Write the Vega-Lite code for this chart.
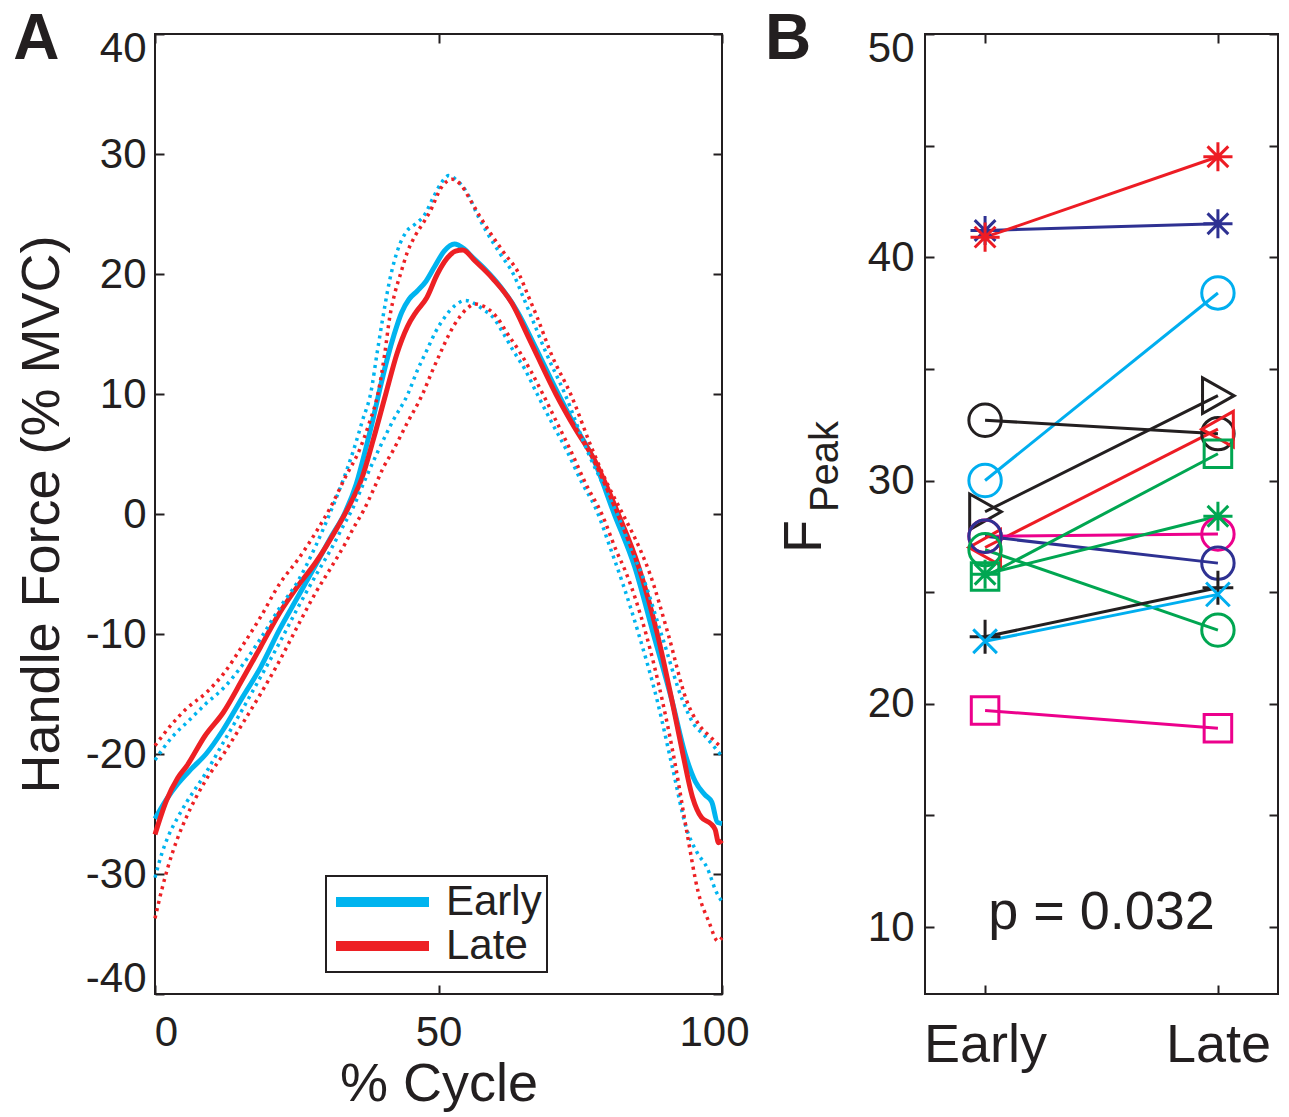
{
  "$schema": "https://vega.github.io/schema/vega-lite/v6.json",
  "background": "white",
  "padding": {"left": 12, "top": 7, "right": 8, "bottom": 0},
  "spacing": 13,
  "datasets": {
    "force": [
      {"c":0,"f":-25.4,"g":"Early","s":"mean"},{"c":2,"f":-23.8,"g":"Early","s":"mean"},{"c":4,"f":-22.5,"g":"Early","s":"mean"},{"c":6.5,"f":-21.2,"g":"Early","s":"mean"},{"c":9,"f":-20,"g":"Early","s":"mean"},{"c":12,"f":-18,"g":"Early","s":"mean"},{"c":15.4,"f":-15.3,"g":"Early","s":"mean"},{"c":18.6,"f":-12.8,"g":"Early","s":"mean"},{"c":22,"f":-9.6,"g":"Early","s":"mean"},{"c":25.2,"f":-6.9,"g":"Early","s":"mean"},{"c":28.4,"f":-4.2,"g":"Early","s":"mean"},{"c":31.2,"f":-1.8,"g":"Early","s":"mean"},{"c":33.4,"f":0,"g":"Early","s":"mean"},{"c":35.5,"f":2.5,"g":"Early","s":"mean"},{"c":37.2,"f":5.5,"g":"Early","s":"mean"},{"c":38.5,"f":8,"g":"Early","s":"mean"},{"c":39.7,"f":10.5,"g":"Early","s":"mean"},{"c":41,"f":13,"g":"Early","s":"mean"},{"c":42.2,"f":15,"g":"Early","s":"mean"},{"c":43.5,"f":16.8,"g":"Early","s":"mean"},{"c":44.8,"f":17.9,"g":"Early","s":"mean"},{"c":46.3,"f":18.6,"g":"Early","s":"mean"},{"c":47.8,"f":19.4,"g":"Early","s":"mean"},{"c":49.3,"f":20.6,"g":"Early","s":"mean"},{"c":51,"f":21.9,"g":"Early","s":"mean"},{"c":52.8,"f":22.5,"g":"Early","s":"mean"},{"c":54.5,"f":22.1,"g":"Early","s":"mean"},{"c":56,"f":21.4,"g":"Early","s":"mean"},{"c":58,"f":20.5,"g":"Early","s":"mean"},{"c":61,"f":18.9,"g":"Early","s":"mean"},{"c":64,"f":16.8,"g":"Early","s":"mean"},{"c":67,"f":14,"g":"Early","s":"mean"},{"c":70.5,"f":10.6,"g":"Early","s":"mean"},{"c":74,"f":7.4,"g":"Early","s":"mean"},{"c":77.3,"f":4.6,"g":"Early","s":"mean"},{"c":81,"f":0,"g":"Early","s":"mean"},{"c":84.6,"f":-4.4,"g":"Early","s":"mean"},{"c":87.9,"f":-10,"g":"Early","s":"mean"},{"c":91.2,"f":-15.6,"g":"Early","s":"mean"},{"c":93.5,"f":-20,"g":"Early","s":"mean"},{"c":95.3,"f":-22.3,"g":"Early","s":"mean"},{"c":97,"f":-23.4,"g":"Early","s":"mean"},{"c":98.2,"f":-24,"g":"Early","s":"mean"},{"c":99.2,"f":-25.7,"g":"Early","s":"mean"},{"c":100,"f":-25.8,"g":"Early","s":"mean"},

      {"c":0,"f":-26.7,"g":"Late","s":"mean"},{"c":2,"f":-23.9,"g":"Late","s":"mean"},{"c":4,"f":-22,"g":"Late","s":"mean"},{"c":5.6,"f":-21,"g":"Late","s":"mean"},{"c":8.8,"f":-18.5,"g":"Late","s":"mean"},{"c":12.1,"f":-16.5,"g":"Late","s":"mean"},{"c":15.4,"f":-13.8,"g":"Late","s":"mean"},{"c":18.6,"f":-11.1,"g":"Late","s":"mean"},{"c":21.9,"f":-8.3,"g":"Late","s":"mean"},{"c":25.2,"f":-6,"g":"Late","s":"mean"},{"c":28.4,"f":-4,"g":"Late","s":"mean"},{"c":31.7,"f":-1.5,"g":"Late","s":"mean"},{"c":34.6,"f":1,"g":"Late","s":"mean"},{"c":36.5,"f":3,"g":"Late","s":"mean"},{"c":38.5,"f":6.2,"g":"Late","s":"mean"},{"c":40.7,"f":10,"g":"Late","s":"mean"},{"c":42.7,"f":13.4,"g":"Late","s":"mean"},{"c":44.5,"f":15.6,"g":"Late","s":"mean"},{"c":46,"f":16.8,"g":"Late","s":"mean"},{"c":47.9,"f":18,"g":"Late","s":"mean"},{"c":49.8,"f":20,"g":"Late","s":"mean"},{"c":51.5,"f":21.3,"g":"Late","s":"mean"},{"c":53,"f":21.9,"g":"Late","s":"mean"},{"c":54.3,"f":22,"g":"Late","s":"mean"},{"c":56.4,"f":21.1,"g":"Late","s":"mean"},{"c":59.6,"f":19.6,"g":"Late","s":"mean"},{"c":62.9,"f":17.6,"g":"Late","s":"mean"},{"c":66,"f":14.6,"g":"Late","s":"mean"},{"c":70.7,"f":10,"g":"Late","s":"mean"},{"c":74,"f":7.2,"g":"Late","s":"mean"},{"c":77.5,"f":4.5,"g":"Late","s":"mean"},{"c":81.7,"f":0,"g":"Late","s":"mean"},{"c":85.3,"f":-4.4,"g":"Late","s":"mean"},{"c":88.6,"f":-10,"g":"Late","s":"mean"},{"c":91.2,"f":-15.6,"g":"Late","s":"mean"},{"c":93.1,"f":-20,"g":"Late","s":"mean"},{"c":94.8,"f":-23.6,"g":"Late","s":"mean"},{"c":96.4,"f":-25.3,"g":"Late","s":"mean"},{"c":98,"f":-25.8,"g":"Late","s":"mean"},{"c":98.8,"f":-26.3,"g":"Late","s":"mean"},{"c":99.4,"f":-27.4,"g":"Late","s":"mean"},{"c":100,"f":-27.2,"g":"Late","s":"mean"},

      {"c":0,"f":-20.5,"g":"Early","s":"upper"},{"c":3,"f":-18.6,"g":"Early","s":"upper"},{"c":6,"f":-17.2,"g":"Early","s":"upper"},{"c":9,"f":-15.8,"g":"Early","s":"upper"},{"c":12.1,"f":-14.5,"g":"Early","s":"upper"},{"c":15.4,"f":-12.6,"g":"Early","s":"upper"},{"c":18.6,"f":-10.4,"g":"Early","s":"upper"},{"c":22,"f":-7.8,"g":"Early","s":"upper"},{"c":25.2,"f":-5.6,"g":"Early","s":"upper"},{"c":28.4,"f":-2.6,"g":"Early","s":"upper"},{"c":30.8,"f":0,"g":"Early","s":"upper"},{"c":33,"f":2.6,"g":"Early","s":"upper"},{"c":35,"f":5.3,"g":"Early","s":"upper"},{"c":36.6,"f":7.8,"g":"Early","s":"upper"},{"c":38.1,"f":10.2,"g":"Early","s":"upper"},{"c":39.2,"f":13.5,"g":"Early","s":"upper"},{"c":40.2,"f":16.4,"g":"Early","s":"upper"},{"c":41.4,"f":19.5,"g":"Early","s":"upper"},{"c":42.8,"f":22,"g":"Early","s":"upper"},{"c":44.3,"f":23.5,"g":"Early","s":"upper"},{"c":46,"f":24.2,"g":"Early","s":"upper"},{"c":47.5,"f":24.9,"g":"Early","s":"upper"},{"c":49,"f":26.3,"g":"Early","s":"upper"},{"c":50.5,"f":27.6,"g":"Early","s":"upper"},{"c":51.8,"f":28.2,"g":"Early","s":"upper"},{"c":53,"f":27.9,"g":"Early","s":"upper"},{"c":55,"f":26.8,"g":"Early","s":"upper"},{"c":57,"f":24.8,"g":"Early","s":"upper"},{"c":58.5,"f":23.5,"g":"Early","s":"upper"},{"c":61,"f":21.6,"g":"Early","s":"upper"},{"c":63.2,"f":20,"g":"Early","s":"upper"},{"c":65,"f":18,"g":"Early","s":"upper"},{"c":66.4,"f":16.4,"g":"Early","s":"upper"},{"c":69,"f":13.4,"g":"Early","s":"upper"},{"c":72.3,"f":10,"g":"Early","s":"upper"},{"c":76.2,"f":5.3,"g":"Early","s":"upper"},{"c":79.5,"f":2,"g":"Early","s":"upper"},{"c":82,"f":-0.5,"g":"Early","s":"upper"},{"c":84,"f":-3,"g":"Early","s":"upper"},{"c":86,"f":-5.2,"g":"Early","s":"upper"},{"c":89.5,"f":-10.3,"g":"Early","s":"upper"},{"c":93.1,"f":-15.6,"g":"Early","s":"upper"},{"c":95,"f":-17.5,"g":"Early","s":"upper"},{"c":97,"f":-18.5,"g":"Early","s":"upper"},{"c":100,"f":-20.2,"g":"Early","s":"upper"},

      {"c":0,"f":-19.3,"g":"Late","s":"upper"},{"c":3,"f":-17.5,"g":"Late","s":"upper"},{"c":5.6,"f":-16.2,"g":"Late","s":"upper"},{"c":9,"f":-14.9,"g":"Late","s":"upper"},{"c":12.1,"f":-13.3,"g":"Late","s":"upper"},{"c":15.4,"f":-11,"g":"Late","s":"upper"},{"c":18.6,"f":-8.6,"g":"Late","s":"upper"},{"c":22,"f":-5.8,"g":"Late","s":"upper"},{"c":25.2,"f":-3.8,"g":"Late","s":"upper"},{"c":28.4,"f":-1.5,"g":"Late","s":"upper"},{"c":31,"f":0.6,"g":"Late","s":"upper"},{"c":33.5,"f":3,"g":"Late","s":"upper"},{"c":36.2,"f":5.5,"g":"Late","s":"upper"},{"c":37.8,"f":7.6,"g":"Late","s":"upper"},{"c":39.4,"f":10.2,"g":"Late","s":"upper"},{"c":40.5,"f":13.3,"g":"Late","s":"upper"},{"c":41.4,"f":16.4,"g":"Late","s":"upper"},{"c":42.3,"f":18.4,"g":"Late","s":"upper"},{"c":43.3,"f":20,"g":"Late","s":"upper"},{"c":44.5,"f":21.8,"g":"Late","s":"upper"},{"c":45.9,"f":23.2,"g":"Late","s":"upper"},{"c":47.5,"f":24.4,"g":"Late","s":"upper"},{"c":48.5,"f":25.2,"g":"Late","s":"upper"},{"c":50.5,"f":27.2,"g":"Late","s":"upper"},{"c":52.4,"f":27.9,"g":"Late","s":"upper"},{"c":54,"f":27.4,"g":"Late","s":"upper"},{"c":55.7,"f":26.1,"g":"Late","s":"upper"},{"c":57.3,"f":24.8,"g":"Late","s":"upper"},{"c":58.9,"f":23.6,"g":"Late","s":"upper"},{"c":61.5,"f":21.8,"g":"Late","s":"upper"},{"c":64.2,"f":20,"g":"Late","s":"upper"},{"c":65.8,"f":18.2,"g":"Late","s":"upper"},{"c":67.4,"f":16.4,"g":"Late","s":"upper"},{"c":70,"f":13.2,"g":"Late","s":"upper"},{"c":73.3,"f":10,"g":"Late","s":"upper"},{"c":77.2,"f":5.3,"g":"Late","s":"upper"},{"c":80,"f":2.3,"g":"Late","s":"upper"},{"c":82.5,"f":0,"g":"Late","s":"upper"},{"c":85.7,"f":-3.1,"g":"Late","s":"upper"},{"c":87.3,"f":-5,"g":"Late","s":"upper"},{"c":90.5,"f":-10,"g":"Late","s":"upper"},{"c":93.8,"f":-15.6,"g":"Late","s":"upper"},{"c":96,"f":-17.6,"g":"Late","s":"upper"},{"c":98,"f":-18.6,"g":"Late","s":"upper"},{"c":100,"f":-19.5,"g":"Late","s":"upper"},

      {"c":0,"f":-30.3,"g":"Early","s":"lower"},{"c":1.2,"f":-28.3,"g":"Early","s":"lower"},{"c":2.3,"f":-26.9,"g":"Early","s":"lower"},{"c":4,"f":-25.3,"g":"Early","s":"lower"},{"c":5.6,"f":-24,"g":"Early","s":"lower"},{"c":8.8,"f":-21.7,"g":"Early","s":"lower"},{"c":12.1,"f":-19,"g":"Early","s":"lower"},{"c":15.4,"f":-16.3,"g":"Early","s":"lower"},{"c":18.6,"f":-13.6,"g":"Early","s":"lower"},{"c":22,"f":-10.7,"g":"Early","s":"lower"},{"c":25.2,"f":-7.8,"g":"Early","s":"lower"},{"c":28.5,"f":-5,"g":"Early","s":"lower"},{"c":31.2,"f":-2.8,"g":"Early","s":"lower"},{"c":33.2,"f":-1,"g":"Early","s":"lower"},{"c":34.9,"f":0.5,"g":"Early","s":"lower"},{"c":37,"f":2.8,"g":"Early","s":"lower"},{"c":39.4,"f":5.3,"g":"Early","s":"lower"},{"c":42,"f":7.8,"g":"Early","s":"lower"},{"c":44.6,"f":10,"g":"Early","s":"lower"},{"c":46.3,"f":12,"g":"Early","s":"lower"},{"c":47.9,"f":13.6,"g":"Early","s":"lower"},{"c":49.5,"f":15.2,"g":"Early","s":"lower"},{"c":51.1,"f":16.4,"g":"Early","s":"lower"},{"c":53,"f":17.4,"g":"Early","s":"lower"},{"c":54.7,"f":17.8,"g":"Early","s":"lower"},{"c":56.5,"f":17.5,"g":"Early","s":"lower"},{"c":58,"f":17,"g":"Early","s":"lower"},{"c":59.6,"f":16.4,"g":"Early","s":"lower"},{"c":61.5,"f":15,"g":"Early","s":"lower"},{"c":63.2,"f":13.6,"g":"Early","s":"lower"},{"c":65.3,"f":12,"g":"Early","s":"lower"},{"c":67.4,"f":10,"g":"Early","s":"lower"},{"c":70,"f":7.6,"g":"Early","s":"lower"},{"c":72.6,"f":5.3,"g":"Early","s":"lower"},{"c":75.3,"f":2.6,"g":"Early","s":"lower"},{"c":77.7,"f":0.5,"g":"Early","s":"lower"},{"c":80.5,"f":-3.1,"g":"Early","s":"lower"},{"c":82.5,"f":-5.8,"g":"Early","s":"lower"},{"c":85.3,"f":-10,"g":"Early","s":"lower"},{"c":88.6,"f":-15.6,"g":"Early","s":"lower"},{"c":91.2,"f":-21,"g":"Early","s":"lower"},{"c":93.8,"f":-26.3,"g":"Early","s":"lower"},{"c":95.6,"f":-28.2,"g":"Early","s":"lower"},{"c":97.4,"f":-29.5,"g":"Early","s":"lower"},{"c":99,"f":-31.5,"g":"Early","s":"lower"},{"c":100,"f":-32.3,"g":"Early","s":"lower"},

      {"c":0,"f":-33.7,"g":"Late","s":"lower"},{"c":1.2,"f":-31.3,"g":"Late","s":"lower"},{"c":2.3,"f":-29.4,"g":"Late","s":"lower"},{"c":4,"f":-27,"g":"Late","s":"lower"},{"c":5.6,"f":-25.2,"g":"Late","s":"lower"},{"c":8.8,"f":-22.3,"g":"Late","s":"lower"},{"c":12.1,"f":-20,"g":"Late","s":"lower"},{"c":15.4,"f":-17.5,"g":"Late","s":"lower"},{"c":18.6,"f":-15,"g":"Late","s":"lower"},{"c":22,"f":-12.2,"g":"Late","s":"lower"},{"c":25.2,"f":-9.3,"g":"Late","s":"lower"},{"c":28.4,"f":-6.5,"g":"Late","s":"lower"},{"c":31,"f":-4.5,"g":"Late","s":"lower"},{"c":33.5,"f":-2.5,"g":"Late","s":"lower"},{"c":35.2,"f":-1,"g":"Late","s":"lower"},{"c":36.8,"f":0.3,"g":"Late","s":"lower"},{"c":38.5,"f":2,"g":"Late","s":"lower"},{"c":40.2,"f":3.8,"g":"Late","s":"lower"},{"c":42,"f":5.3,"g":"Late","s":"lower"},{"c":44.5,"f":7.6,"g":"Late","s":"lower"},{"c":47.2,"f":10,"g":"Late","s":"lower"},{"c":48.8,"f":11.8,"g":"Late","s":"lower"},{"c":50.5,"f":13.6,"g":"Late","s":"lower"},{"c":52,"f":15.1,"g":"Late","s":"lower"},{"c":53.7,"f":16.4,"g":"Late","s":"lower"},{"c":55,"f":17.1,"g":"Late","s":"lower"},{"c":56.4,"f":17.5,"g":"Late","s":"lower"},{"c":58,"f":17.3,"g":"Late","s":"lower"},{"c":60.3,"f":16.4,"g":"Late","s":"lower"},{"c":62.2,"f":15,"g":"Late","s":"lower"},{"c":64.2,"f":13.6,"g":"Late","s":"lower"},{"c":66.3,"f":11.9,"g":"Late","s":"lower"},{"c":68.4,"f":10,"g":"Late","s":"lower"},{"c":70.8,"f":7.7,"g":"Late","s":"lower"},{"c":73.3,"f":5.3,"g":"Late","s":"lower"},{"c":76,"f":2.5,"g":"Late","s":"lower"},{"c":78.8,"f":0,"g":"Late","s":"lower"},{"c":81.4,"f":-3.1,"g":"Late","s":"lower"},{"c":83,"f":-4.8,"g":"Late","s":"lower"},{"c":86.6,"f":-10,"g":"Late","s":"lower"},{"c":89.5,"f":-15.6,"g":"Late","s":"lower"},{"c":91.8,"f":-21,"g":"Late","s":"lower"},{"c":93.8,"f":-26.5,"g":"Late","s":"lower"},{"c":95.8,"f":-31.5,"g":"Late","s":"lower"},{"c":97.7,"f":-34,"g":"Late","s":"lower"},{"c":99.3,"f":-35.6,"g":"Late","s":"lower"},{"c":100,"f":-35.3,"g":"Late","s":"lower"}
    ],
    "peak": [
      {"subj":"S01","phase":"Early","v":41.2},{"subj":"S01","phase":"Late","v":41.5},
      {"subj":"S02","phase":"Early","v":40.9},{"subj":"S02","phase":"Late","v":44.5},
      {"subj":"S03","phase":"Early","v":30.0},{"subj":"S03","phase":"Late","v":38.4},
      {"subj":"S04","phase":"Early","v":32.7},{"subj":"S04","phase":"Late","v":32.1},
      {"subj":"S05","phase":"Early","v":28.6},{"subj":"S05","phase":"Late","v":33.8},
      {"subj":"S06","phase":"Early","v":27.0},{"subj":"S06","phase":"Late","v":32.3},
      {"subj":"S07","phase":"Early","v":27.5},{"subj":"S07","phase":"Late","v":27.6},
      {"subj":"S08","phase":"Early","v":27.5},{"subj":"S08","phase":"Late","v":26.3},
      {"subj":"S09","phase":"Early","v":26.9},{"subj":"S09","phase":"Late","v":23.3},
      {"subj":"S10","phase":"Early","v":25.7},{"subj":"S10","phase":"Late","v":31.2},
      {"subj":"S11","phase":"Early","v":25.8},{"subj":"S11","phase":"Late","v":28.4},
      {"subj":"S12","phase":"Early","v":23.0},{"subj":"S12","phase":"Late","v":25.2},
      {"subj":"S13","phase":"Early","v":22.8},{"subj":"S13","phase":"Late","v":24.9},
      {"subj":"S14","phase":"Early","v":19.7},{"subj":"S14","phase":"Late","v":18.9}
    ]
  },
  "hconcat": [
    {
      "width": 567,
      "height": 960,
      "title": {"text": "A", "dx": -2},
      "data": {"name": "force"},
      "layer": [
        {
          "transform": [{"filter": "datum.s == 'mean'"}],
          "mark": {"type": "line", "strokeWidth": 5, "interpolate": "monotone"},
          "encoding": {
            "x": {"field": "c", "type": "quantitative", "scale": {"domain": [0, 100], "nice": false},
              "axis": {"orient": "bottom", "values": [0, 50, 100], "labelFontSize": 42, "labelPadding": 27, "labelFlush": false,
                "labelOffset": {"condition": [{"test": "datum.value == 0", "value": 11}, {"test": "datum.value == 100", "value": -8}], "value": 0},
                "title": "% Cycle", "titleFontSize": 54, "titlePadding": 4}},
            "y": {"field": "f", "type": "quantitative", "scale": {"domain": [-40, 40], "nice": false},
              "axis": {"orient": "left", "values": [-40, -30, -20, -10, 0, 10, 20, 30, 40], "labelExpr": "'' + datum.value",
                "labelFontSize": 42, "labelPadding": 18, "labelFlush": true, "labelFlushOffset": 6,
                "title": "Handle Force (% MVC)", "titleFontSize": 54, "titlePadding": 16}},
            "color": {"field": "g", "type": "nominal", "scale": {"domain": ["Early", "Late"], "range": ["#00B4EF", "#ED2024"]},
              "legend": {"title": null, "orient": "none", "legendX": 171, "legendY": 842, "symbolType": "stroke", "symbolSize": 8649,
                "symbolStrokeWidth": 10, "labelFontSize": 42, "labelFont": "Liberation Sans", "labelColor": "#231F20", "labelOffset": 12,
                "clipHeight": 42, "strokeColor": "#231F20", "fillColor": "white", "padding": 5, "rowPadding": 2}}
          }
        },
        {
          "transform": [{"filter": "datum.s != 'mean'"}],
          "mark": {"type": "line", "strokeWidth": 3.5, "strokeDash": [3, 4.5], "interpolate": "monotone"},
          "encoding": {
            "x": {"field": "c", "type": "quantitative", "axis": {"orient": "top", "values": [0, 50, 100], "labels": false, "title": null}},
            "y": {"field": "f", "type": "quantitative", "axis": {"orient": "right", "values": [-40, -30, -20, -10, 0, 10, 20, 30, 40], "labels": false, "title": null}},
            "color": {"field": "g", "type": "nominal"},
            "detail": {"field": "s", "type": "nominal"}
          }
        }
      ]
    },
    {
      "width": 353,
      "height": 960,
      "title": {"text": "B", "dx": -12},
      "layer": [
        {
          "data": {"name": "peak"},
          "mark": {"type": "line", "strokeWidth": 3},
          "encoding": {
            "x": {"field": "phase", "type": "nominal", "sort": null, "scale": {"type": "point", "domain": ["Early", "Late"], "padding": 0.258},
              "axis": {"orient": "bottom", "labelAngle": 0, "labelFontSize": 54, "labelPadding": 33, "title": null}},
            "y": {"field": "v", "type": "quantitative", "scale": {"domain": [7, 50], "nice": false, "zero": false},
              "axis": {"orient": "left", "values": [10, 15, 20, 25, 30, 35, 40, 45, 50], "labelExpr": "datum.value % 10 == 0 ? datum.label : ''",
                "labelFontSize": 42, "labelPadding": 20, "labelFlush": true, "labelFlushOffset": 6,
                "title": "F", "titleFontSize": 54, "titleAngle": 270, "titleX": -105, "titleY": 502,
                "titleBaseline": "alphabetic", "titleAlign": "center"}},
            "color": {"field": "subj", "type": "nominal",
              "scale": {"domain": ["S01","S02","S03","S04","S05","S06","S07","S08","S09","S10","S11","S12","S13","S14"],
                "range": ["#2E3192","#ED1C24","#00AEEF","#231F20","#231F20","#ED1C24","#EC008C","#2E3192","#00A651","#00A651","#00A651","#231F20","#00AEEF","#EC008C"]},
              "legend": null}
          }
        },
        {
          "data": {"name": "peak"},
          "mark": {"type": "point", "filled": false, "strokeWidth": 3, "size": 1050, "opacity": 1},
          "encoding": {
            "x": {"field": "phase", "type": "nominal", "sort": null, "axis": {"orient": "top", "labels": false, "title": null}},
            "y": {"field": "v", "type": "quantitative",
              "axis": {"orient": "right", "values": [10, 15, 20, 25, 30, 35, 40, 45, 50], "labels": false, "title": "Peak", "titleFontSize": 40,
                "titleAngle": 270, "titleX": -441, "titleY": 432, "titleBaseline": "alphabetic", "titleAlign": "center"}},
            "color": {"field": "subj", "type": "nominal", "legend": null},
            "shape": {"field": "subj", "type": "nominal",
              "scale": {"domain": ["S01","S02","S03","S04","S05","S06","S07","S08","S09","S10","S11","S12","S13","S14"],
                "range": [
                  "M-0.9,0L0.9,0M0,-0.9L0,0.9M-0.64,-0.64L0.64,0.64M-0.64,0.64L0.64,-0.64",
                  "M-0.9,0L0.9,0M0,-0.9L0,0.9M-0.64,-0.64L0.64,0.64M-0.64,0.64L0.64,-0.64",
                  "circle",
                  "circle",
                  "M-0.95,-1.1L1,0L-0.95,1.1Z",
                  "M0.95,-1.1L-1,0L0.95,1.1Z",
                  "circle",
                  "circle",
                  "circle",
                  "M-0.85,-0.85L0.85,-0.85L0.85,0.85L-0.85,0.85Z",
                  "M-0.9,0L0.9,0M0,-0.9L0,0.9M-0.64,-0.64L0.64,0.64M-0.64,0.64L0.64,-0.64",
                  "M-0.95,0L0.95,0M0,-1.05L0,1.05",
                  "M-0.73,-0.73L0.73,0.73M-0.73,0.73L0.73,-0.73",
                  "M-0.85,-0.85L0.85,-0.85L0.85,0.85L-0.85,0.85Z"
                ]},
              "legend": null}
          }
        },
        {
          "data": {"values": [{}]},
          "mark": {"type": "text", "text": "p = 0.032", "fontSize": 54, "baseline": "alphabetic", "align": "center", "color": "#231F20", "font": "Liberation Sans"},
          "encoding": {"y": {"datum": 9.9, "type": "quantitative", "axis": null}}
        }
      ]
    }
  ],
  "resolve": {"scale": {"color": "independent", "shape": "independent"}},
  "config": {
    "font": "Liberation Sans",
    "view": {"stroke": "#231F20", "strokeWidth": 2},
    "legend": {"strokeWidth": 2},
    "axis": {"domain": false, "grid": false, "tickColor": "#231F20", "tickWidth": 2, "tickSize": -9,
      "labelColor": "#231F20", "titleColor": "#231F20", "labelFont": "Liberation Sans", "titleFont": "Liberation Sans", "titleFontWeight": "normal"},
    "title": {"font": "Liberation Sans", "fontSize": 64, "fontWeight": "bold", "color": "#231F20", "anchor": "start", "frame": "bounds", "baseline": "alphabetic", "offset": -45}
  }
}
